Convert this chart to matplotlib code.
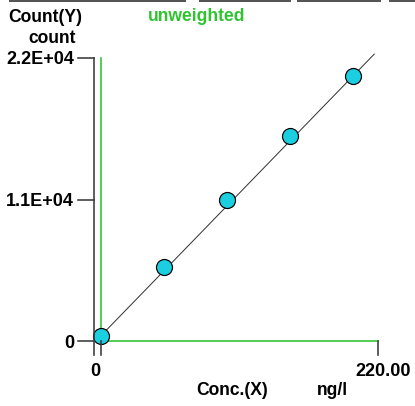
import matplotlib
matplotlib.use('Agg')
import matplotlib.pyplot as plt
from matplotlib.lines import Line2D
from matplotlib.transforms import IdentityTransform

# calibration points
conc = [0, 50, 100, 150, 200]
counts = [412, 5750, 10960, 15940, 20600]
fit_x = [0, 217]
fit_y = [412, 22300]

y_ticks = [0, 11000, 22000]
y_labels = ['0', '1.1E+04', '2.2E+04']
x_ticks = [0, 220]
x_labels = ['0', '220.00']

W, H = 415, 406
GREEN = '#2fc42f'
AXIS = '#3a3a3a'
CYAN = '#1bcfe0'

plt.rcParams['font.family'] = ['Liberation Sans', 'DejaVu Sans']
plt.rcParams['font.weight'] = 'bold'

fig = plt.figure(figsize=(W / 72, H / 72), dpi=72)
ax = fig.add_axes([101 / W, 1 - 341 / H, 277 / W, 283 / H])
ax.set_xlim(0, 220)
ax.set_ylim(0, 22000)
ax.axis('off')


def to_px(x, y):
    return ax.transData.transform((x, y))


def seg(xa, ya, xb, yb, **kw):
    fig.add_artist(Line2D([xa, xb], [ya, yb], transform=IdentityTransform(), **kw))


def ftext(x, y, s, **kw):
    fig.text(x / W, 1 - y / H, s, **kw)


# green reference lines
ax.plot([0, 0], [0, 22000], color=GREEN, lw=1.6, zorder=1, clip_on=False)
ax.plot([0, 220], [0, 0], color=GREEN, lw=1.6, zorder=1, clip_on=False)

# black axis and ticks
x0, y0 = to_px(0, 0)
_, ytop = to_px(0, 22000)
seg(x0 - 7, ytop, x0 - 7, y0 - 14, color=AXIS, lw=1.6)
for v, lab in zip(y_ticks, y_labels):
    _, yy = to_px(0, v)
    seg(x0 - 23, yy, x0 - 7, yy, color=AXIS, lw=1.6)
    fig.text((x0 - 27) / W, (yy - 2) / H, lab, ha='right', va='center', fontsize=18)
for v, lab, dx in zip(x_ticks, x_labels, [-6, 5]):
    xx, _ = to_px(v, 0)
    seg(xx, y0, xx, y0 - 14, color=AXIS, lw=1.6)
    fig.text((xx + dx) / W, (y0 - 35) / H, lab, ha='center', va='baseline', fontsize=18)

# regression line and points
ax.plot(fit_x, fit_y, color='#333333', lw=1, zorder=2, clip_on=False)
ax.plot(conc, counts, 'o', ms=16, mfc=CYAN, mec='black', mew=1.2, zorder=3, clip_on=False)

# labels
ftext(8, 22, 'Count(Y)', fontsize=17.5, va='baseline')
ftext(28, 43, 'count', fontsize=17.5, va='baseline')
ftext(148, 21, 'unweighted', fontsize=17.5, va='baseline', color=GREEN)
ftext(196, 395, 'Conc.(X)', fontsize=17.5, va='baseline')
ftext(317, 395, 'ng/l', fontsize=17.5, va='baseline')

# bits of frame along the top edge
for a, b in [(10, 185), (200, 290), (298, 380), (390, 415)]:
    seg(a, H - 0.5, b, H - 0.5, color='#555555', lw=2)

fig.savefig('out.png', dpi=72)
